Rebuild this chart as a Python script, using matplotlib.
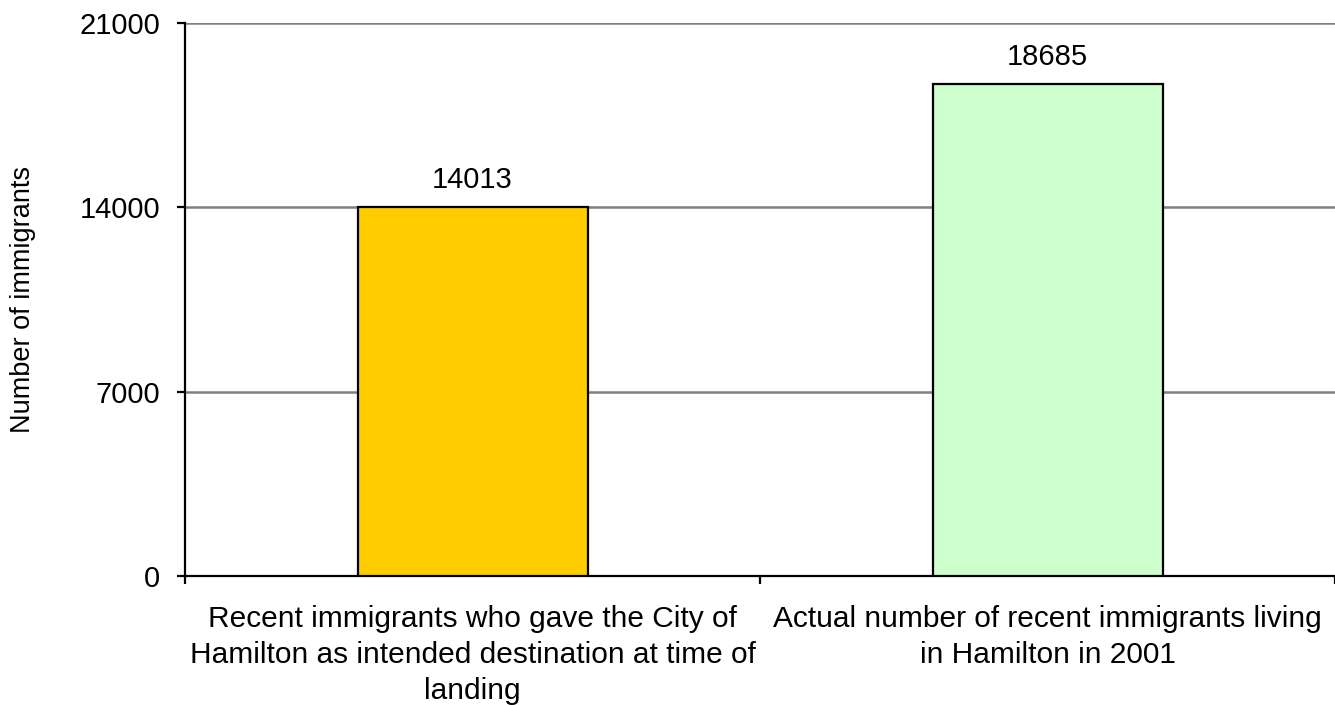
import matplotlib
matplotlib.use("Agg")
import matplotlib.pyplot as plt

plt.rcParams["font.family"] = ["Liberation Sans", "DejaVu Sans"]

# data
categories = [
    "Recent immigrants who gave the City of\nHamilton as intended destination at time of\nlanding",
    "Actual number of recent immigrants living\nin Hamilton in 2001",
]
values = [14013, 18685]
bar_colors = ["#FFCC00", "#CCFFCC"]
y_ticks = [0, 7000, 14000, 21000]

fig = plt.figure(figsize=(13.35, 7.05), dpi=100)
ax = fig.add_axes([185 / 1335, 1 - 576 / 705, 1150 / 1335, 553 / 705])

x = list(range(len(categories)))
bars = ax.bar(x, values, width=0.4, color=bar_colors, edgecolor="black", linewidth=1.6, zorder=3)

# value labels above the bars
for b, v in zip(bars, values):
    ax.annotate(str(v), (b.get_x() + b.get_width() / 2, v), xytext=(0, 9.5),
                textcoords="offset points", ha="center", va="bottom", fontsize=21)

ax.set_ylim(0, 21000)
ax.set_xlim(-0.5, 1.5)
ax.set_yticks(y_ticks)
ax.set_yticklabels([str(t) for t in y_ticks], fontsize=21)
ax.yaxis.grid(True, color="#808080", linewidth=1.8, zorder=0)

# boundary ticks on the x axis, labels centred under the bars
ax.set_xticks([-0.5, 0.5, 1.5])
ax.set_xticklabels(["", "", ""])
ax.set_xticks(x, minor=True)
ax.set_xticklabels(categories, minor=True, fontsize=21.5, linespacing=1.36)
ax.tick_params(axis="x", which="minor", length=0, pad=21)
ax.tick_params(axis="x", which="major", length=6, width=1.6, direction="out")
ax.tick_params(axis="y", length=6, width=1.6, pad=12)

ax.set_ylabel("Number of immigrants", fontsize=19.5, labelpad=31)

ax.spines["top"].set_visible(False)
ax.spines["right"].set_visible(False)
ax.spines["left"].set_linewidth(1.6)
ax.spines["bottom"].set_linewidth(1.6)

plt.savefig("out.png", dpi=100)
